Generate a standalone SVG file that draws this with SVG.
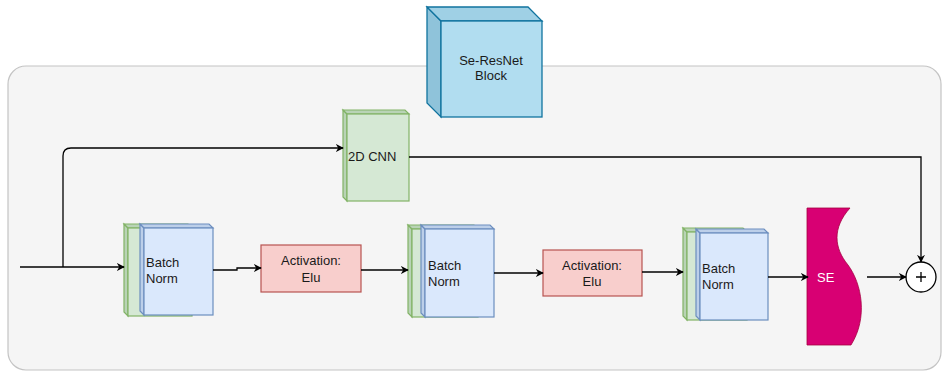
<svg xmlns="http://www.w3.org/2000/svg" width="944" height="374" viewBox="0 0 944 374">
<defs>
<style>
.t{font-family:"Liberation Sans",Arial,sans-serif;font-size:13px;fill:#1a1a1a}
.c{text-anchor:middle}
.g{fill:#d5e8d4;stroke:#82b366;stroke-width:1.2}
.gd{fill:#b9d3b6;stroke:#82b366;stroke-width:1.2}
.b{fill:#dae8fc;stroke:#6c8ebf;stroke-width:1.2}
.bd{fill:#bccfe9;stroke:#6c8ebf;stroke-width:1.2}
.conn{fill:none;stroke:#000;stroke-width:1.3}
</style>
<marker id="ah" viewBox="0 0 10 10" refX="9" refY="5" markerWidth="8" markerHeight="8" markerUnits="userSpaceOnUse" orient="auto">
<path d="M0,0 L10,5 L0,10 L3,5 Z" fill="#000"/>
</marker>
</defs>
<rect x="8" y="66" width="933" height="304" rx="18" fill="#f5f5f5" stroke="#c4c4c4" stroke-width="1.2"/>

<g id="seresnet">
<polygon points="427,7 441,21 441,117 427,103" fill="#8fc3da" stroke="#10739e" stroke-width="1.3"/>
<polygon points="427,7 528,7 542,21 441,21" fill="#9fd0e5" stroke="#10739e" stroke-width="1.3"/>
<rect x="441" y="21" width="101" height="96" fill="#b1ddf0" stroke="#10739e" stroke-width="1.3"/>
<text class="t c" x="491" y="65">Se-ResNet</text>
<text class="t c" x="491" y="80">Block</text>
</g>

<g id="cnn">
<polygon class="gd" points="343,110 347,114 347,201 343,197"/>
<polygon class="gd" points="343,110 405,110 409,114 347,114"/>
<rect class="g" x="347" y="114" width="62" height="87"/>
<text class="t" x="348" y="161">2D CNN</text>
</g>

<g id="bn1">
<polygon class="gd" points="124,224 128,228 128,316 124,312"/>
<polygon class="gd" points="124,224 188,224 192,228 128,228"/>
<rect class="g" x="128" y="228" width="64" height="88"/>
<polygon class="bd" points="140,224 144,228 144,315 140,311"/>
<polygon class="bd" points="140,224 209,224 213,228 144,228"/>
<rect class="b" x="144" y="228" width="69" height="87"/>
<text class="t" x="146" y="267">Batch</text>
<text class="t" x="146" y="283">Norm</text>
</g>

<g id="act1">
<rect x="261" y="245" width="100" height="47" fill="#f8cecc" stroke="#b85450" stroke-width="1.2"/>
<text class="t c" x="311" y="265" font-size="12">Activation:</text>
<text class="t c" x="311" y="282" font-size="12">Elu</text>
</g>

<g id="bn2">
<polygon class="gd" points="408,225 412,229 412,317 408,313"/>
<polygon class="gd" points="408,225 474,225 478,229 412,229"/>
<rect class="g" x="412" y="229" width="66" height="88"/>
<polygon class="bd" points="421,225 425,229 425,317 421,313"/>
<polygon class="bd" points="421,225 490,225 494,229 425,229"/>
<rect class="b" x="425" y="229" width="69" height="88"/>
<text class="t" x="428" y="270">Batch</text>
<text class="t" x="428" y="286">Norm</text>
</g>

<g id="act2">
<rect x="543" y="250" width="99" height="46" fill="#f8cecc" stroke="#b85450" stroke-width="1.2"/>
<text class="t c" x="592" y="270" font-size="12">Activation:</text>
<text class="t c" x="592" y="286" font-size="12">Elu</text>
</g>

<g id="bn3">
<polygon class="gd" points="683,228 687,232 687,320 683,316"/>
<polygon class="gd" points="683,228 743,228 747,232 687,232"/>
<rect class="g" x="687" y="232" width="60" height="88"/>
<polygon class="bd" points="696,229 700,233 700,320 696,316"/>
<polygon class="bd" points="696,229 764,229 768,233 700,233"/>
<rect class="b" x="700" y="233" width="68" height="87"/>
<text class="t" x="702" y="273">Batch</text>
<text class="t" x="702" y="289">Norm</text>
</g>

<g id="se">
<path d="M807,208 H850 C832,228 834,248 848,265 C862,284 868,318 851,345 H807 Z" fill="#d80073" stroke="#a50040" stroke-width="0.8"/>
<text class="t" x="817" y="282" style="fill:#ffffff">SE</text>
</g>

<g id="sum">
<circle cx="921" cy="277" r="15" fill="#ffffff" stroke="#000" stroke-width="1.3"/>
<path d="M916,277 H926 M921,272 V282" stroke="#000" stroke-width="1.3"/>
</g>

<g id="connectors">
<path class="conn" d="M20,267 H124" marker-end="url(#ah)"/>
<path class="conn" d="M63,267 V156 Q63,148 71,148 H343" marker-end="url(#ah)"/>
<path class="conn" d="M213,270 H237 V268 H261" marker-end="url(#ah)"/>
<path class="conn" d="M361,270 H408" marker-end="url(#ah)"/>
<path class="conn" d="M494,273 H543" marker-end="url(#ah)"/>
<path class="conn" d="M642,272 H683" marker-end="url(#ah)"/>
<path class="conn" d="M768,277 H808" marker-end="url(#ah)"/>
<path class="conn" d="M867,277 H906" marker-end="url(#ah)"/>
<path class="conn" d="M409,157 H921 V262" marker-end="url(#ah)"/>
</g>
</svg>
